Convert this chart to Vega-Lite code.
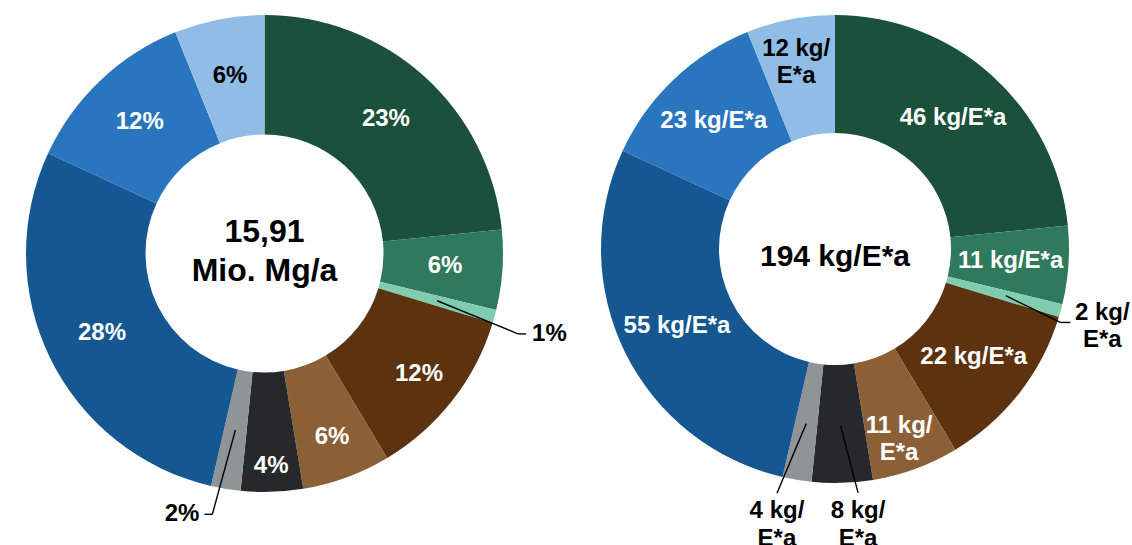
{
  "$schema": "https://vega.github.io/schema/vega-lite/v6.json",
  "padding": 0,
  "autosize": {"type": "pad"},
  "bounds": "flush",
  "spacing": 71,
  "config": {
    "view": {"stroke": null},
    "text": {"font": "Liberation Sans", "fontWeight": "bold", "fontSize": 24}
  },
  "datasets": {
    "d": [
      {"order": 1, "cat": "A", "share": 23.4, "pct": "23%", "kg": "46 kg/E*a"},
      {"order": 2, "cat": "B", "share": 5.4, "pct": "6%", "kg": "11 kg/E*a"},
      {"order": 3, "cat": "C", "share": 0.9, "pct": "1%", "kg": "2 kg/\nE*a"},
      {"order": 4, "cat": "D", "share": 11.7, "pct": "12%", "kg": "22 kg/E*a"},
      {"order": 5, "cat": "E", "share": 6.0, "pct": "6%", "kg": "11 kg/\nE*a"},
      {"order": 6, "cat": "F", "share": 4.2, "pct": "4%", "kg": "8 kg/\nE*a"},
      {"order": 7, "cat": "G", "share": 2.0, "pct": "2%", "kg": "4 kg/\nE*a"},
      {"order": 8, "cat": "H", "share": 28.3, "pct": "28%", "kg": "55 kg/E*a"},
      {"order": 9, "cat": "I", "share": 12.0, "pct": "12%", "kg": "23 kg/E*a"},
      {"order": 10, "cat": "J", "share": 6.1, "pct": "6%", "kg": "12 kg/\nE*a"}
    ]
  },
  "hconcat": [
    {
      "width": 529,
      "height": 507,
      "data": {"name": "d"},
      "transform": [
        {"stack": "share", "groupby": [], "sort": [{"field": "order", "order": "ascending"}], "as": ["s0", "s1"]},
        {"calculate": "(datum.s0 + datum.s1) / 2", "as": "mid"}
      ],
      "layer": [
        {
          "mark": {"type": "arc", "innerRadius": 119, "outerRadius": 238.5},
          "encoding": {
            "theta": {"field": "s0", "type": "quantitative", "stack": null, "scale": {"domain": [0, 100]}},
            "theta2": {"field": "s1"},
            "color": {"field": "cat", "type": "nominal", "legend": null,
              "scale": {"domain": ["A","B","C","D","E","F","G","H","I","J"],
                "range": ["#1b513b","#2f7a5c","#7fcdae","#5c320f","#8c6037","#25292c","#8f9496","#155891","#2975be","#8fbde5"]}}
          }
        },
        {
          "transform": [{"filter": "indexof([1,2,8,9,10], datum.order) >= 0"}],
          "mark": {"type": "text", "radius": 181},
          "encoding": {
            "theta": {"field": "mid", "type": "quantitative", "stack": null, "scale": {"domain": [0, 100]}},
            "text": {"field": "pct"},
            "color": {"condition": {"test": "datum.order == 10", "value": "black"}, "value": "white"}
          }
        },
        {
          "transform": [{"filter": "datum.order == 4 || datum.order == 5"}],
          "mark": {"type": "text", "radius": 196, "color": "white"},
          "encoding": {
            "theta": {"field": "mid", "type": "quantitative", "stack": null, "scale": {"domain": [0, 100]}},
            "text": {"field": "pct"}
          }
        },
        {
          "transform": [{"filter": "datum.order == 6"}],
          "mark": {"type": "text", "radius": 213, "color": "white"},
          "encoding": {
            "theta": {"field": "mid", "type": "quantitative", "stack": null, "scale": {"domain": [0, 100]}},
            "text": {"field": "pct"}
          }
        },
        {
          "transform": [{"filter": "datum.order == 1"}],
          "mark": {"type": "text", "fontSize": 32, "lineHeight": 38.5, "baseline": "alphabetic", "dy": -11.5, "color": "black"},
          "encoding": {
            "x": {"datum": 0, "type": "quantitative", "scale": {"domain": [-264.5, 264.5], "nice": false}, "axis": null},
            "y": {"datum": 0, "type": "quantitative", "scale": {"domain": [-253.5, 253.5], "nice": false}, "axis": null},
            "text": {"value": ["15,91", "Mio. Mg/a"]}
          }
        },
        {
          "transform": [
            {"filter": "datum.order == 3 || datum.order == 7"},
            {"calculate": "datum.mid * PI / 50", "as": "a"},
            {"calculate": "datum.a + (datum.order == 3 ? 0.04 : 0.034)", "as": "e"},
            {"calculate": "179 * sin(datum.a)", "as": "x1"},
            {"calculate": "179 * cos(datum.a)", "as": "y1"},
            {"calculate": "266 * sin(datum.e)", "as": "x2"},
            {"calculate": "266 * cos(datum.e)", "as": "y2"},
            {"calculate": "datum.x2 + (sin(datum.e) > 0 ? 8 : -8)", "as": "x3"}
          ],
          "layer": [
            {
              "mark": {"type": "rule", "color": "black", "strokeWidth": 1.4},
              "encoding": {
                "x": {"field": "x1", "type": "quantitative", "scale": {"domain": [-264.5, 264.5], "nice": false}, "axis": null},
                "y": {"field": "y1", "type": "quantitative", "scale": {"domain": [-253.5, 253.5], "nice": false}, "axis": null},
                "x2": {"field": "x2"},
                "y2": {"field": "y2"}
              }
            },
            {
              "mark": {"type": "rule", "color": "black", "strokeWidth": 1.4},
              "encoding": {
                "x": {"field": "x2", "type": "quantitative", "scale": {"domain": [-264.5, 264.5], "nice": false}, "axis": null},
                "x2": {"field": "x3"},
                "y": {"field": "y2", "type": "quantitative", "scale": {"domain": [-253.5, 253.5], "nice": false}, "axis": null}
              }
            },
            {
              "transform": [{"filter": "datum.x3 > datum.x2"}],
              "mark": {"type": "text", "align": "left", "dx": 6, "color": "black"},
              "encoding": {
                "x": {"field": "x3", "type": "quantitative", "scale": {"domain": [-264.5, 264.5], "nice": false}, "axis": null},
                "y": {"field": "y2", "type": "quantitative", "scale": {"domain": [-253.5, 253.5], "nice": false}, "axis": null},
                "text": {"field": "pct"}
              }
            },
            {
              "transform": [{"filter": "datum.x3 < datum.x2"}],
              "mark": {"type": "text", "align": "right", "dx": -5, "color": "black"},
              "encoding": {
                "x": {"field": "x3", "type": "quantitative", "scale": {"domain": [-264.5, 264.5], "nice": false}, "axis": null},
                "y": {"field": "y2", "type": "quantitative", "scale": {"domain": [-253.5, 253.5], "nice": false}, "axis": null},
                "text": {"field": "pct"}
              }
            }
          ]
        }
      ]
    },
    {
      "width": 470,
      "height": 498,
      "data": {"name": "d"},
      "transform": [
        {"stack": "share", "groupby": [], "sort": [{"field": "order", "order": "ascending"}], "as": ["s0", "s1"]},
        {"calculate": "(datum.s0 + datum.s1) / 2", "as": "mid"}
      ],
      "layer": [
        {
          "mark": {"type": "arc", "innerRadius": 116, "outerRadius": 234},
          "encoding": {
            "theta": {"field": "s0", "type": "quantitative", "stack": null, "scale": {"domain": [0, 100]}},
            "theta2": {"field": "s1"},
            "color": {"field": "cat", "type": "nominal", "legend": null,
              "scale": {"domain": ["A","B","C","D","E","F","G","H","I","J"],
                "range": ["#1b513b","#2f7a5c","#7fcdae","#5c320f","#8c6037","#25292c","#8f9496","#155891","#2975be","#8fbde5"]}}
          }
        },
        {
          "transform": [{"filter": "indexof([1,2,4,8,9], datum.order) >= 0"}],
          "mark": {"type": "text", "radius": 176, "color": "white"},
          "encoding": {
            "theta": {"field": "mid", "type": "quantitative", "stack": null, "scale": {"domain": [0, 100]}},
            "text": {"field": "kg"}
          }
        },
        {
          "transform": [{"filter": "datum.order == 5"}],
          "mark": {"type": "text", "radius": 186, "baseline": "alphabetic", "dy": 9, "lineBreak": "\n", "lineHeight": 27, "color": "white"},
          "encoding": {
            "theta": {"field": "mid", "type": "quantitative", "stack": null, "scale": {"domain": [0, 100]}},
            "text": {"field": "kg"}
          }
        },
        {
          "transform": [{"filter": "datum.order == 10"}],
          "mark": {"type": "text", "radius": 204, "baseline": "alphabetic", "dy": 7, "lineBreak": "\n", "lineHeight": 27, "color": "black"},
          "encoding": {
            "theta": {"field": "mid", "type": "quantitative", "stack": null, "scale": {"domain": [0, 100]}},
            "text": {"field": "kg"}
          }
        },
        {
          "transform": [{"filter": "datum.order == 1"}],
          "mark": {"type": "text", "fontSize": 30, "dy": 8, "color": "black"},
          "encoding": {
            "x": {"datum": 0, "type": "quantitative", "scale": {"domain": [-235, 235], "nice": false}, "axis": null},
            "y": {"datum": 0, "type": "quantitative", "scale": {"domain": [-249, 249], "nice": false}, "axis": null},
            "text": {"value": "194 kg/E*a"}
          }
        },
        {
          "transform": [
            {"filter": "datum.order == 3 || datum.order == 6 || datum.order == 7"},
            {"calculate": "datum.mid * PI / 50", "as": "a"},
            {"calculate": "datum.a + (datum.order == 3 ? 0.048 : datum.order == 7 ? 0.07 : -0.063)", "as": "e"},
            {"calculate": "datum.order == 3 ? 237 : datum.order == 7 ? 251 : 245", "as": "r2"},
            {"calculate": "177 * sin(datum.a)", "as": "x1"},
            {"calculate": "177 * cos(datum.a)", "as": "y1"},
            {"calculate": "datum.r2 * sin(datum.e)", "as": "x2"},
            {"calculate": "datum.r2 * cos(datum.e)", "as": "y2"},
            {"calculate": "datum.x2 + 10", "as": "x3"}
          ],
          "layer": [
            {
              "mark": {"type": "rule", "color": "black", "strokeWidth": 1.4},
              "encoding": {
                "x": {"field": "x1", "type": "quantitative", "scale": {"domain": [-235, 235], "nice": false}, "axis": null},
                "y": {"field": "y1", "type": "quantitative", "scale": {"domain": [-249, 249], "nice": false}, "axis": null},
                "x2": {"field": "x2"},
                "y2": {"field": "y2"}
              }
            },
            {
              "transform": [{"filter": "datum.order == 3"}],
              "mark": {"type": "rule", "color": "black", "strokeWidth": 1.4},
              "encoding": {
                "x": {"field": "x2", "type": "quantitative", "scale": {"domain": [-235, 235], "nice": false}, "axis": null},
                "x2": {"field": "x3"},
                "y": {"field": "y2", "type": "quantitative", "scale": {"domain": [-249, 249], "nice": false}, "axis": null}
              }
            },
            {
              "transform": [{"filter": "datum.order == 3"}],
              "mark": {"type": "text", "align": "center", "baseline": "alphabetic", "dx": 32, "dy": -2, "lineBreak": "\n", "lineHeight": 27, "color": "black"},
              "encoding": {
                "x": {"field": "x3", "type": "quantitative", "scale": {"domain": [-235, 235], "nice": false}, "axis": null},
                "y": {"field": "y2", "type": "quantitative", "scale": {"domain": [-249, 249], "nice": false}, "axis": null},
                "text": {"field": "kg"}
              }
            },
            {
              "transform": [{"filter": "datum.order == 6 || datum.order == 7"}],
              "mark": {"type": "text", "align": "center", "baseline": "alphabetic", "dy": 25, "lineBreak": "\n", "lineHeight": 28, "color": "black"},
              "encoding": {
                "x": {"field": "x2", "type": "quantitative", "scale": {"domain": [-235, 235], "nice": false}, "axis": null},
                "y": {"field": "y2", "type": "quantitative", "scale": {"domain": [-249, 249], "nice": false}, "axis": null},
                "text": {"field": "kg"}
              }
            }
          ]
        }
      ]
    }
  ]
}
